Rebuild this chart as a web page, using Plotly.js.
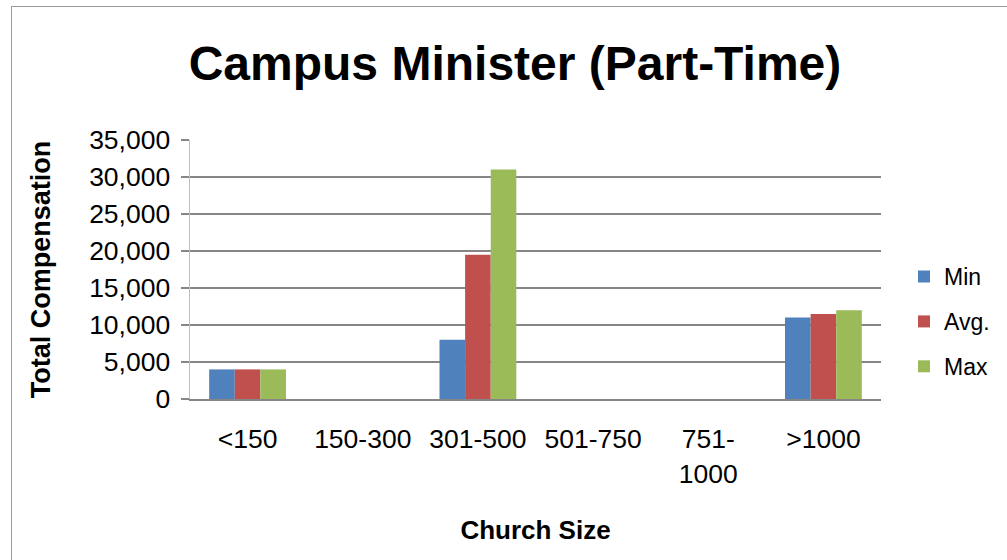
<!DOCTYPE html>
<html>
<head>
<meta charset="utf-8">
<script src="https://cdn.plot.ly/plotly-3.0.1.min.js"></script>
<style>
  html, body { margin: 0; padding: 0; background: #fff; }
  #chart { width: 1007px; height: 560px; }
  #frame { position: absolute; left: 11px; top: 6px; width: 1100px; height: 700px;
           border-left: 1.5px solid #9a9a9a; border-top: 1.5px solid #9a9a9a;
           pointer-events: none; box-sizing: border-box; }
</style>
</head>
<body>
<div id="chart"></div>
<div id="frame"></div>
<script>
const categories = ['<150', '150-300', '301-500', '501-750', '751-<br>1000', '>1000'];
const minValues = [4000, null, 8000, null, null, 11000];
const avgValues = [4000, null, 19500, null, null, 11500];
const maxValues = [4000, null, 31000, null, null, 12000];
const seriesNames = ['Min', 'Avg.', 'Max'];
const seriesColors = ['#4F81BD', '#C0504D', '#9BBB59'];
const yTicks = [0, 5000, 10000, 15000, 20000, 25000, 30000, 35000];

const seriesValues = [minValues, avgValues, maxValues];
const traces = seriesValues.map((vals, i) => ({
  type: 'bar',
  name: seriesNames[i],
  x: categories,
  y: vals,
  legendgroup: 'g' + i,
  marker: { color: seriesColors[i], line: { width: 0 } },
  hoverinfo: 'x+y+name'
}));

const layout = {
  width: 1007,
  height: 560,
  margin: { l: 190, r: 126, t: 140, b: 161 },
  paper_bgcolor: '#ffffff',
  plot_bgcolor: '#ffffff',
  font: { family: 'Liberation Sans, Arial, sans-serif', color: '#000000', size: 26.5 },
  title: {
    text: '<b>Campus Minister (Part-Time)</b>',
    font: { family: 'Liberation Sans, Arial, sans-serif', size: 48, color: '#000' },
    xref: 'container', x: 0.5114, xanchor: 'center',
    yref: 'container', y: 1 - 63 / 560, yanchor: 'middle'
  },
  barmode: 'group',
  bargap: 0.333,
  bargroupgap: 0,
  showlegend: true,
  legend: {
    x: 1.0333, xanchor: 'left',
    y: 0.299, yanchor: 'middle',
    font: { size: 23, color: '#000' },
    tracegroupgap: 12,
    traceorder: 'grouped',
    bgcolor: 'rgba(0,0,0,0)'
  },
  xaxis: {
    type: 'category',
    tickvals: categories,
    ticktext: categories,
    showgrid: false,
    zeroline: false,
    showline: true,
    linecolor: '#868686',
    linewidth: 1.5,
    ticks: '',
    ticklabelstandoff: 16,
    tickfont: { size: 26.5, color: '#000' },
    title: {
      text: '<b>Church Size</b>',
      font: { size: 26, color: '#000' },
      standoff: 33
    },
    fixedrange: true
  },
  yaxis: {
    range: [0, 35000],
    tickvals: yTicks,
    tickformat: ',d',
    showgrid: true,
    gridcolor: '#868686',
    gridwidth: 1.2,
    zeroline: false,
    showline: true,
    linecolor: '#BFBFBF',
    linewidth: 1.5,
    ticks: 'outside',
    ticklen: 8,
    tickcolor: '#868686',
    tickwidth: 1.2,
    ticklabelstandoff: 5,
    tickfont: { size: 26.5, color: '#000' },
    title: {
      text: '<b>Total Compensation</b>',
      font: { size: 27, color: '#000' },
      standoff: 30
    },
    fixedrange: true
  }
};

Plotly.newPlot('chart', traces, layout, { displayModeBar: false, staticPlot: true });
</script>
</body>
</html>
